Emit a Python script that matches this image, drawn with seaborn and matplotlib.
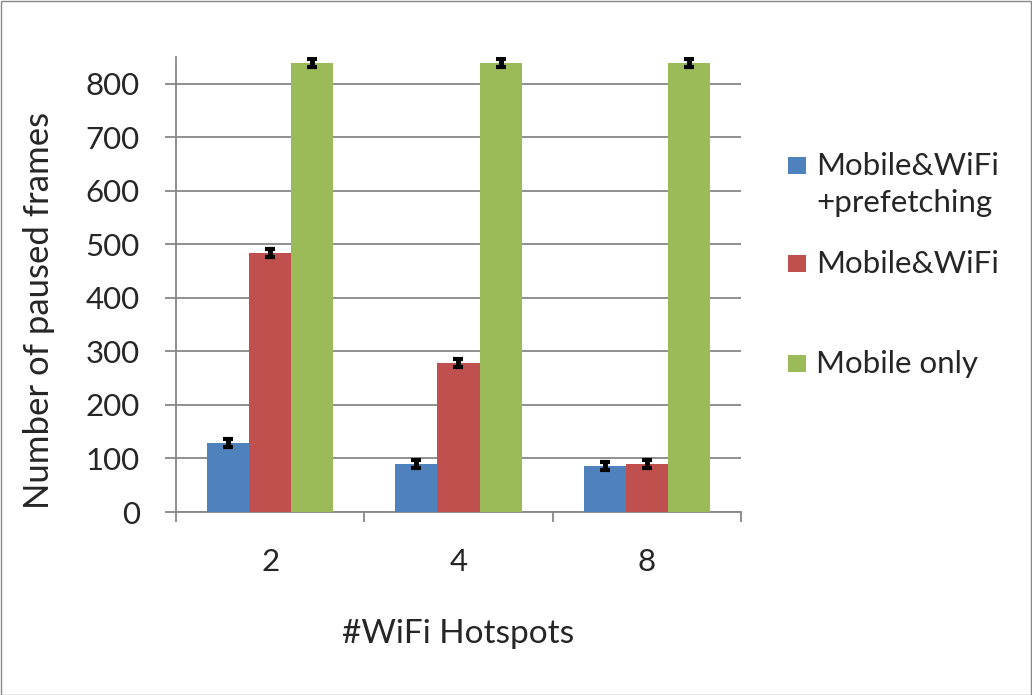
import matplotlib
matplotlib.use("Agg")
import matplotlib.pyplot as plt
import pandas as pd
import seaborn as sns
from matplotlib.patches import Rectangle

# ---- data ----
hotspots = ["2", "4", "8"]
series = ["Mobile&WiFi\n+prefetching", "Mobile&WiFi", "Mobile only"]
prefetch_vals = [129, 90, 86]
wifi_vals = [484, 278, 90]
mobile_vals = [839, 839, 839]
prefetch_err = [8, 8, 8]
wifi_err = [8, 8, 8]
mobile_err = [8, 8, 8]
yticks = [0, 100, 200, 300, 400, 500, 600, 700, 800]

colors = ["#4F81BD", "#C0504D", "#9BBB59"]
GRID = "#878787"
W, H = 1032, 695

sns.set_theme(style="white")
plt.rcParams["font.family"] = ["Lato", "DejaVu Sans"]

df = pd.DataFrame({
    "hotspots": hotspots * 3,
    "series": [s for s in series for _ in hotspots],
    "frames": prefetch_vals + wifi_vals + mobile_vals,
    "err": prefetch_err + wifi_err + mobile_err,
})

fig = plt.figure(figsize=(W / 100, H / 100), dpi=100)
ax = fig.add_axes([176 / W, 1 - 512 / H, (741 - 176) / W, (512 - 57) / H])

sns.barplot(data=df, x="hotspots", y="frames", hue="series", hue_order=series,
            order=hotspots, palette=colors, width=0.67, errorbar=None,
            saturation=1, linewidth=0, legend=False, ax=ax, zorder=3)

# error bars at the bar centres
for cont, s in zip(ax.containers, series):
    sub = df[df["series"] == s].set_index("hotspots").loc[hotspots]
    xs = [b.get_x() + b.get_width() / 2 for b in cont]
    ax.errorbar(xs, sub["frames"], yerr=sub["err"], fmt="none", ecolor="black",
                elinewidth=3.5, capsize=3.3, capthick=3, zorder=4)

ax.set_ylim(0, 850)
ax.set_xlim(-0.5, 2.5)
ax.set_yticks(yticks)
ax.yaxis.grid(True, color=GRID, linewidth=1.3, zorder=0)
ax.set_axisbelow(True)
for side in ["top", "right"]:
    ax.spines[side].set_visible(False)
for side in ["left", "bottom"]:
    ax.spines[side].set_color(GRID)
    ax.spines[side].set_linewidth(1.3)

ax.tick_params(axis="y", which="major", left=True, length=8, color=GRID, width=1.3,
               labelsize=22.5, pad=18)
ax.tick_params(axis="x", which="major", bottom=False, length=0, labelsize=22.5, pad=26)
ax.set_xticks([-0.5, 0.5, 1.5, 2.5], minor=True)
ax.tick_params(axis="x", which="minor", bottom=True, length=7.5, color=GRID, width=1.3)

ax.set_xlabel("#WiFi Hotspots", fontsize=24, labelpad=31)
ax.set_ylabel("Number of paused frames", fontsize=25)
# Excel puts the title a bit below the plot-area centre
ax.yaxis.set_label_coords((55 - 176) / 565, (512 - 310) / 455)

# legend, laid out like the Excel original (swatch + one text per line)
legend_rows = [([175, 212], series[0]), ([273], series[1]), ([373], series[2])]
for (baselines, label), c in zip(legend_rows, colors):
    y0 = baselines[0]
    fig.patches.append(Rectangle((788 / W, 1 - (y0 - 1) / H), 18 / W, 17 / H,
                                 transform=fig.transFigure, facecolor=c, edgecolor="none"))
    for yb, line in zip(baselines, label.split("\n")):
        fig.text(816 / W, 1 - yb / H, line, fontsize=22.5, va="baseline", ha="left")

# chart border
fig.patches.append(Rectangle((0.5 / W, 0.5 / H), 1 - 1.5 / W, 1 - 1.5 / H,
                             transform=fig.transFigure, fill=False, edgecolor=GRID,
                             linewidth=1))

fig.savefig("out.png", dpi=100)
